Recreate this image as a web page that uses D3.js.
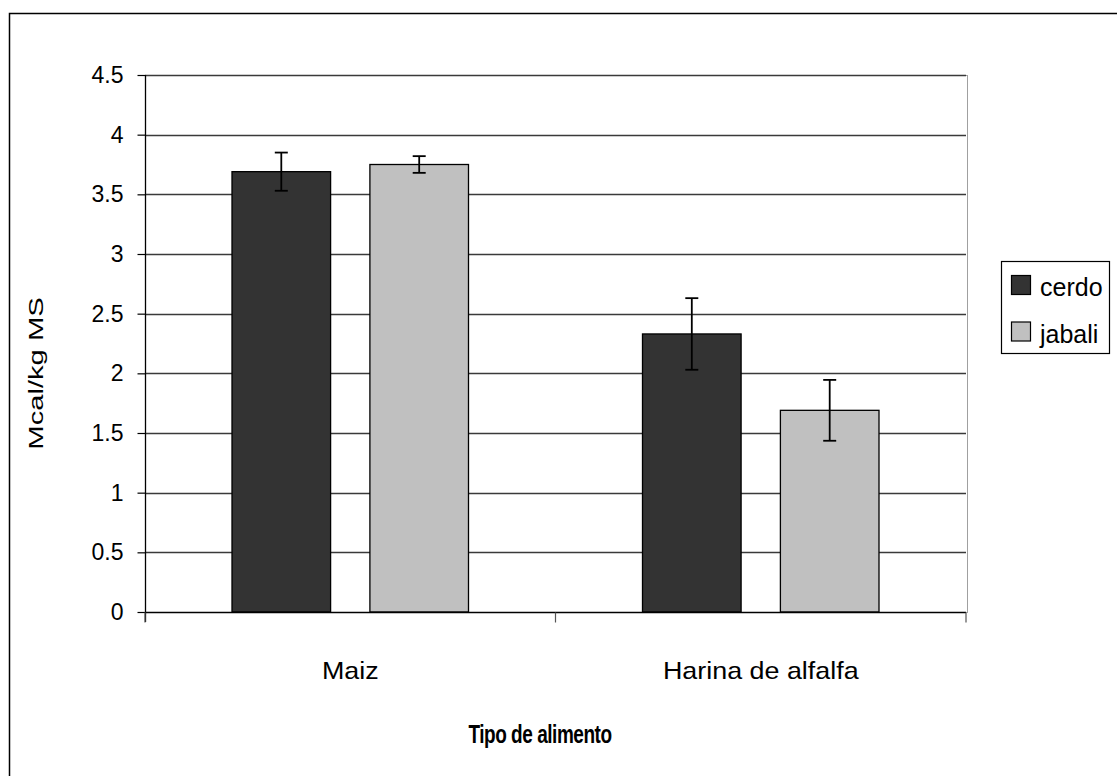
<!DOCTYPE html>
<html>
<head>
<meta charset="utf-8">
<script src="https://cdn.jsdelivr.net/npm/d3@7"></script>
<style>
  html, body { margin: 0; padding: 0; background: #fff; }
  svg { display: block; }
  text { font-family: "Liberation Sans", Arial, sans-serif; fill: #000; }
</style>
</head>
<body>
<svg id="chart" width="1117" height="776"></svg>
<script>
// ---- data ----
const categories = ["Maiz", "Harina de alfalfa"];
const seriesNames = ["cerdo", "jabali"];
const cerdoValues = [3.69, 2.33];
const jabaliValues = [3.75, 1.69];
const cerdoErrors = [0.16, 0.30];
const jabaliErrors = [0.07, 0.255];
const yTicks = [0, 0.5, 1, 1.5, 2, 2.5, 3, 3.5, 4, 4.5];
const seriesColors = ["#333333", "#c0c0c0"];
const yTitle = "Mcal/kg MS";
const xTitle = "Tipo de alimento";

const values = [cerdoValues, jabaliValues];
const errors = [cerdoErrors, jabaliErrors];

const svg = d3.select("#chart");

// outer chart-area border (extends beyond the bottom/right of the picture)
svg.append("rect")
  .attr("x", 9.5).attr("y", 13.5)
  .attr("width", 1200).attr("height", 900)
  .attr("fill", "#fff").attr("stroke", "#000").attr("stroke-width", 1.5);

const plot = { left: 145, right: 966, top: 75, bottom: 612 };

const y = d3.scaleLinear().domain([0, 4.5]).range([plot.bottom, plot.top]);
const x0 = d3.scaleBand().domain(categories).range([plot.left, plot.right]).padding(0);
const x1 = d3.scaleBand().domain(seriesNames)
  .range([87, x0.bandwidth() - 87]).paddingInner(0.285).paddingOuter(0);

// plot area border (gray)
svg.append("rect")
  .attr("x", plot.left + 0.5).attr("y", plot.top + 0.5)
  .attr("width", plot.right - plot.left + 1).attr("height", plot.bottom - plot.top)
  .attr("fill", "#fff").attr("stroke", "#a0a0a0").attr("stroke-width", 1);

// gridlines
svg.append("g")
  .selectAll("line")
  .data(yTicks.filter(d => d > 0))
  .join("line")
  .attr("x1", plot.left).attr("x2", plot.right)
  .attr("y1", d => Math.round(y(d)) + 0.5).attr("y2", d => Math.round(y(d)) + 0.5)
  .attr("stroke", "#3a3a3a").attr("stroke-width", 1.3);

// bars
const groups = svg.append("g").selectAll("g")
  .data(categories)
  .join("g")
  .attr("transform", d => `translate(${x0(d)},0)`);

const barData = (c, i) => seriesNames.map((s, j) => ({ s, j, v: values[j][i], e: errors[j][i] }));

groups.selectAll("rect")
  .data(barData)
  .join("rect")
  .attr("x", d => x1(d.s))
  .attr("y", d => y(d.v))
  .attr("width", x1.bandwidth())
  .attr("height", d => y(0) - y(d.v))
  .attr("fill", d => seriesColors[d.j])
  .attr("stroke", "#000").attr("stroke-width", 1.3);

// error bars
const eb = groups.selectAll("g.err")
  .data(barData)
  .join("g").attr("class", "err");
eb.append("line")
  .attr("x1", d => x1(d.s) + x1.bandwidth() / 2)
  .attr("x2", d => x1(d.s) + x1.bandwidth() / 2)
  .attr("y1", d => y(d.v + d.e)).attr("y2", d => y(d.v - d.e))
  .attr("stroke", "#000").attr("stroke-width", 1.8);
eb.selectAll("line.cap")
  .data(d => [d.v + d.e, d.v - d.e].map(t => ({ cx: x1(d.s) + x1.bandwidth() / 2, t })))
  .join("line").attr("class", "cap")
  .attr("x1", d => d.cx - 6.5).attr("x2", d => d.cx + 6.5)
  .attr("y1", d => y(d.t)).attr("y2", d => y(d.t))
  .attr("stroke", "#000").attr("stroke-width", 1.8);

// y axis
const yAxis = d3.axisLeft(y).tickValues(yTicks).tickSize(8).tickPadding(14)
  .tickFormat(d3.format("~g"));
const gy = svg.append("g").attr("transform", `translate(${plot.left + 0.5},0)`).call(yAxis);
gy.select(".domain").attr("stroke", "#000").attr("stroke-width", 1.3).attr("d", `M0,${plot.top}V${plot.bottom + 10}`);
gy.selectAll(".tick line").attr("stroke", "#000").attr("stroke-width", 1.2);
gy.selectAll(".tick text")
  .style("font-family", "'Liberation Sans', Arial, sans-serif")
  .style("font-size", "23px").attr("fill", "#000");

// x axis
const xAxis = d3.axisBottom(x0).tickSize(0).tickPadding(0);
const gx = svg.append("g").attr("transform", `translate(0,${plot.bottom + 0.5})`).call(xAxis);
gx.select(".domain").attr("stroke", "#000").attr("stroke-width", 1.5).attr("d", `M${plot.left},0H${plot.right}`);
gx.selectAll(".tick text")
  .style("font-family", "'Liberation Sans', Arial, sans-serif")
  .style("font-size", "24px").attr("fill", "#000")
  .attr("dy", null).attr("y", 67)
  .attr("transform", "scale(1.12,1)");
// category divider ticks
gx.append("g").selectAll("line")
  .data([plot.left, ...categories.map(c => x0(c) + x0.bandwidth())])
  .join("line")
  .attr("x1", d => d).attr("x2", d => d)
  .attr("y1", 0).attr("y2", 10)
  .attr("stroke", "#555").attr("stroke-width", 1.2);

// titles
svg.append("text")
  .attr("transform", `translate(43,373.5) rotate(-90) scale(1.39,1)`)
  .attr("text-anchor", "middle")
  .style("font-size", "21px")
  .text(yTitle);

svg.append("text")
  .attr("transform", "translate(540,743) scale(0.76,1)")
  .attr("text-anchor", "middle")
  .style("font-size", "25px").style("font-weight", "bold")
  .attr("letter-spacing", -0.6)
  .text(xTitle);

// legend
const lg = svg.append("g").attr("transform", "translate(1001,261)");
lg.append("rect").attr("x", 0.5).attr("y", 0.5).attr("width", 108).attr("height", 92)
  .attr("fill", "#fff").attr("stroke", "#000").attr("stroke-width", 1.2);
const li = lg.selectAll("g.item").data(seriesNames).join("g").attr("class", "item")
  .attr("transform", (d, i) => `translate(10,${14 + i * 46.5})`);
li.append("rect").attr("x", 0.5).attr("y", 0.5).attr("width", 19).attr("height", 19)
  .attr("fill", (d, i) => seriesColors[i]).attr("stroke", "#000").attr("stroke-width", 1.2);
li.append("text").attr("x", 29).attr("y", 21)
  .style("font-size", "25px").attr("letter-spacing", 0)
  .text(d => d);
</script>
</body>
</html>
